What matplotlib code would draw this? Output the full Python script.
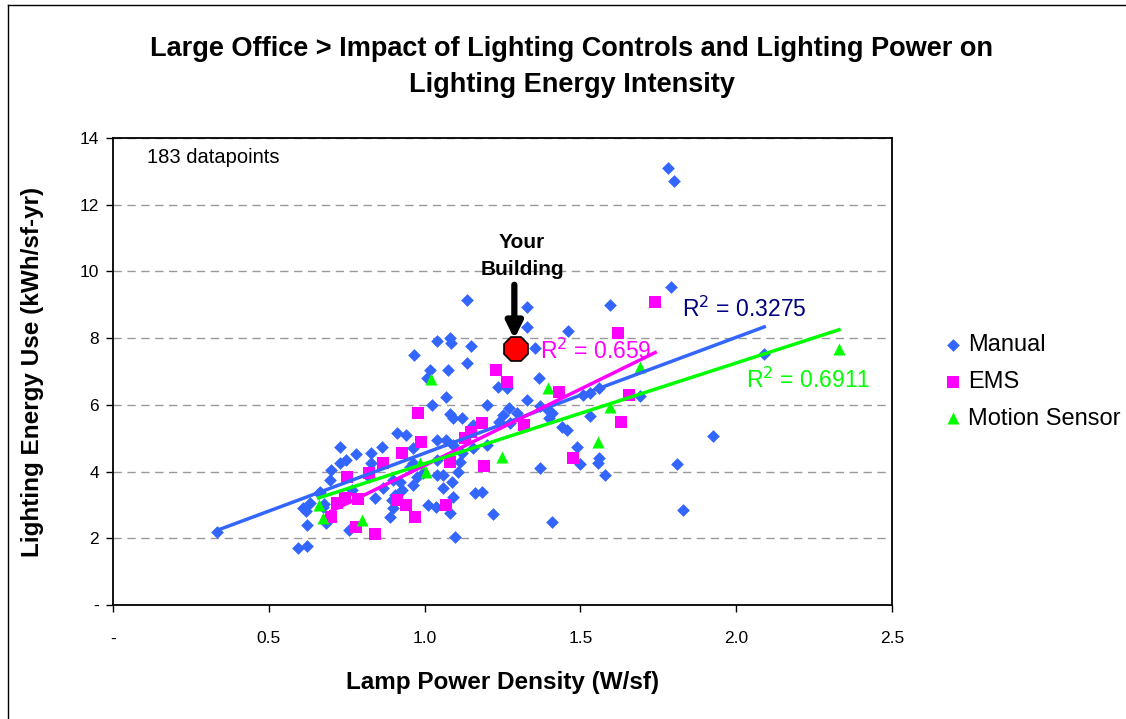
import numpy as np
import matplotlib.pyplot as plt
from matplotlib.lines import Line2D

plt.rcParams["font.family"] = ["Liberation Sans", "DejaVu Sans"]

# Manual lighting controls (blue diamonds)
manual_x = [1.78, 1.80, 1.79, 1.595, 1.135, 1.33, 1.46, 1.33, 1.355, 2.09,
            1.925, 1.81, 1.83, 1.69, 1.56, 1.53, 1.507, 1.53, 1.44, 1.456,
            1.49, 1.50, 1.56, 1.556, 1.58, 1.37, 1.41, 1.366, 1.33, 1.37,
            1.41, 1.40, 1.395,
            1.04, 1.08, 1.084, 1.15, 0.966, 1.017, 1.075, 1.135, 1.008, 1.235,
            1.263, 1.07, 1.023, 1.20, 1.08, 1.12, 1.09, 1.25, 1.27, 1.295,
            1.24, 1.274, 1.155, 0.91, 0.94, 1.04, 1.07, 1.09, 1.20, 0.963,
            1.154, 1.12, 1.04, 1.113, 0.953, 1.06, 1.04, 1.107, 0.995, 1.087,
            1.06, 1.09, 1.162, 1.183, 1.01, 1.035, 1.08, 1.22, 1.098, 0.92,
            0.963,
            0.73, 0.78, 0.827, 0.862, 0.73, 0.748, 0.70, 0.696, 0.827, 0.82,
            0.90, 0.963, 0.975, 0.664, 0.61, 0.632, 0.62, 0.623, 0.674, 0.684,
            0.677, 0.66, 0.84, 0.766, 0.867, 0.894, 0.90, 0.89, 0.905, 0.926,
            0.757, 0.594, 0.623, 0.333]
manual_y = [13.1, 12.7, 9.53, 9.0, 9.15, 8.93, 8.21, 8.33, 7.7, 7.52,
            5.07, 4.22, 2.85, 6.27, 6.5, 6.35, 6.3, 5.67, 5.33, 5.25,
            4.75, 4.23, 4.4, 4.26, 3.9, 4.1, 2.48, 6.82, 6.15, 5.97,
            5.75, 5.6, 5.85,
            7.92, 8.0, 7.85, 7.76, 7.5, 7.05, 7.04, 7.26, 6.8, 6.55,
            6.5, 6.23, 6.0, 6.0, 5.73, 5.6, 5.6, 5.7, 5.9, 5.75,
            5.5, 5.45, 5.4, 5.17, 5.1, 4.95, 4.95, 4.8, 4.8, 4.7,
            4.7, 4.55, 4.35, 4.3, 4.15, 3.9, 3.9, 4.0, 3.95, 3.68,
            3.5, 3.25, 3.35, 3.4, 3.0, 2.95, 2.77, 2.73, 2.04, 3.7,
            4.25,
            4.73, 4.52, 4.57, 4.75, 4.25, 4.35, 4.05, 3.75, 4.27, 3.85,
            3.75, 3.6, 3.85, 3.4, 2.9, 3.05, 2.83, 2.4, 2.95, 2.46,
            3.03, 3.35, 3.2, 3.45, 3.5, 3.15, 2.9, 2.63, 3.3, 3.45,
            2.25, 1.71, 1.77, 2.19]

# EMS (magenta squares)
ems_x = [0.70, 0.72, 0.745, 0.75, 0.78, 0.785, 0.82, 0.84, 0.867, 0.91,
         0.926, 0.94, 0.97, 0.98, 0.99, 1.07, 1.08, 1.13, 1.15, 1.183,
         1.19, 1.23, 1.265, 1.32, 1.43, 1.476, 1.63, 1.656, 1.62, 1.74]
ems_y = [2.65, 3.05, 3.2, 3.85, 2.35, 3.17, 3.95, 2.13, 4.25, 3.15,
         4.55, 3.0, 2.65, 5.77, 4.9, 3.0, 4.3, 5.0, 5.2, 5.47,
         4.17, 7.04, 6.7, 5.4, 6.4, 4.4, 5.5, 6.3, 8.16, 9.08]

# Motion sensor (green triangles)
motion_x = [0.66, 0.673, 0.80, 0.985, 1.005, 1.02, 1.247, 1.396, 1.556,
            1.595, 1.69, 2.33]
motion_y = [3.0, 2.6, 2.55, 4.26, 4.0, 6.77, 4.45, 6.5, 4.9,
            5.93, 7.13, 7.67]

your_building = (1.293, 7.67)

blue = "#3366FF"
pink = "#FF00FF"
green = "#00FF00"

fig = plt.figure(figsize=(11.26, 7.19), dpi=100)
ax = fig.add_axes([113 / 1126, 1 - 605 / 719, 779 / 1126, 467 / 719])

ax.scatter(manual_x, manual_y, marker="D", s=42, color=blue, zorder=3,
           label="Manual", linewidths=0)
ax.scatter(ems_x, ems_y, marker="s", s=70, color=pink, zorder=3,
           label="EMS", linewidths=0)
ax.scatter(motion_x, motion_y, marker="^", s=75, color=green, zorder=3,
           label="Motion Sensor", linewidths=0)

# linear trendlines over each series' range
for xs, ys, c in [(manual_x, manual_y, blue), (ems_x, ems_y, pink),
                  (motion_x, motion_y, green)]:
    m, b = np.polyfit(xs, ys, 1)
    xx = np.array([min(xs), max(xs)])
    ax.plot(xx, m * xx + b, color=c, lw=2.5, zorder=4)

ax.text(1.826, 8.85, "R$^2$ = 0.3275", color="#000080", fontsize=16.5,
        va="center")
ax.text(1.37, 7.6, "R$^2$ = 0.659", color=pink, fontsize=16.5, va="center")
ax.text(2.03, 6.74, "R$^2$ = 0.6911", color=green, fontsize=16.5,
        va="center")

ax.plot(*your_building, marker="8", ms=19, color="red",
        markeredgecolor="black", markeredgewidth=1.2, zorder=6)
ax.annotate("", xy=(your_building[0] - 0.005, 7.98),
            xytext=(your_building[0] - 0.005, 9.6),
            arrowprops=dict(arrowstyle="-|>", color="black", lw=4.5,
                            mutation_scale=24, shrinkA=0, shrinkB=0),
            zorder=6)
ax.text(1.313, 10.46, "Your\nBuilding", ha="center", va="center",
        fontsize=15, fontweight="bold", linespacing=1.5)

ax.text(0.11, 13.25, "183 datapoints", fontsize=14.5)

ax.set_xlim(0, 2.5)
ax.set_ylim(0, 14)
ax.set_xticks([0, 0.5, 1.0, 1.5, 2.0, 2.5])
ax.set_xticklabels(["-", "0.5", "1.0", "1.5", "2.0", "2.5"], fontsize=12.5)
ax.set_yticks(range(0, 15, 2))
ax.set_yticklabels(["-"] + [str(v) for v in range(2, 15, 2)], fontsize=12.5)
ax.tick_params(direction="out", length=5, width=1, color="black")
ax.tick_params(axis="x", pad=14)
ax.tick_params(axis="y", pad=5)
ax.yaxis.grid(True, linestyle=(0, (6, 4)), color="#999999", lw=1)
ax.set_axisbelow(True)
for s in ax.spines.values():
    s.set_linewidth(1.3)

ax.set_xlabel("Lamp Power Density (W/sf)", fontsize=17.5, fontweight="bold",
              labelpad=18)
ax.set_ylabel("Lighting Energy Use (kWh/sf-yr)", fontsize=17.5,
              fontweight="bold", labelpad=26)

fig.text(572 / 1126, 1 - 67 / 719,
         "Large Office > Impact of Lighting Controls and Lighting Power on\n"
         "Lighting Energy Intensity", ha="center", va="center", fontsize=19.5,
         fontweight="bold", linespacing=1.45)

fig.legend(loc="center left", bbox_to_anchor=(920 / 1126, 1 - 382 / 719),
           frameon=False, fontsize=17, labelspacing=0.62, handlelength=1.0,
           handletextpad=0.15, markerscale=1.0)

# outer chart border (left and top edges visible)
fig.add_artist(Line2D([8 / 1126, 8 / 1126], [0, 1 - 5 / 719],
                      transform=fig.transFigure, color="black", lw=1))
fig.add_artist(Line2D([8 / 1126, 1], [1 - 5 / 719, 1 - 5 / 719],
                      transform=fig.transFigure, color="black", lw=1))

fig.savefig("out.png", dpi=100)
